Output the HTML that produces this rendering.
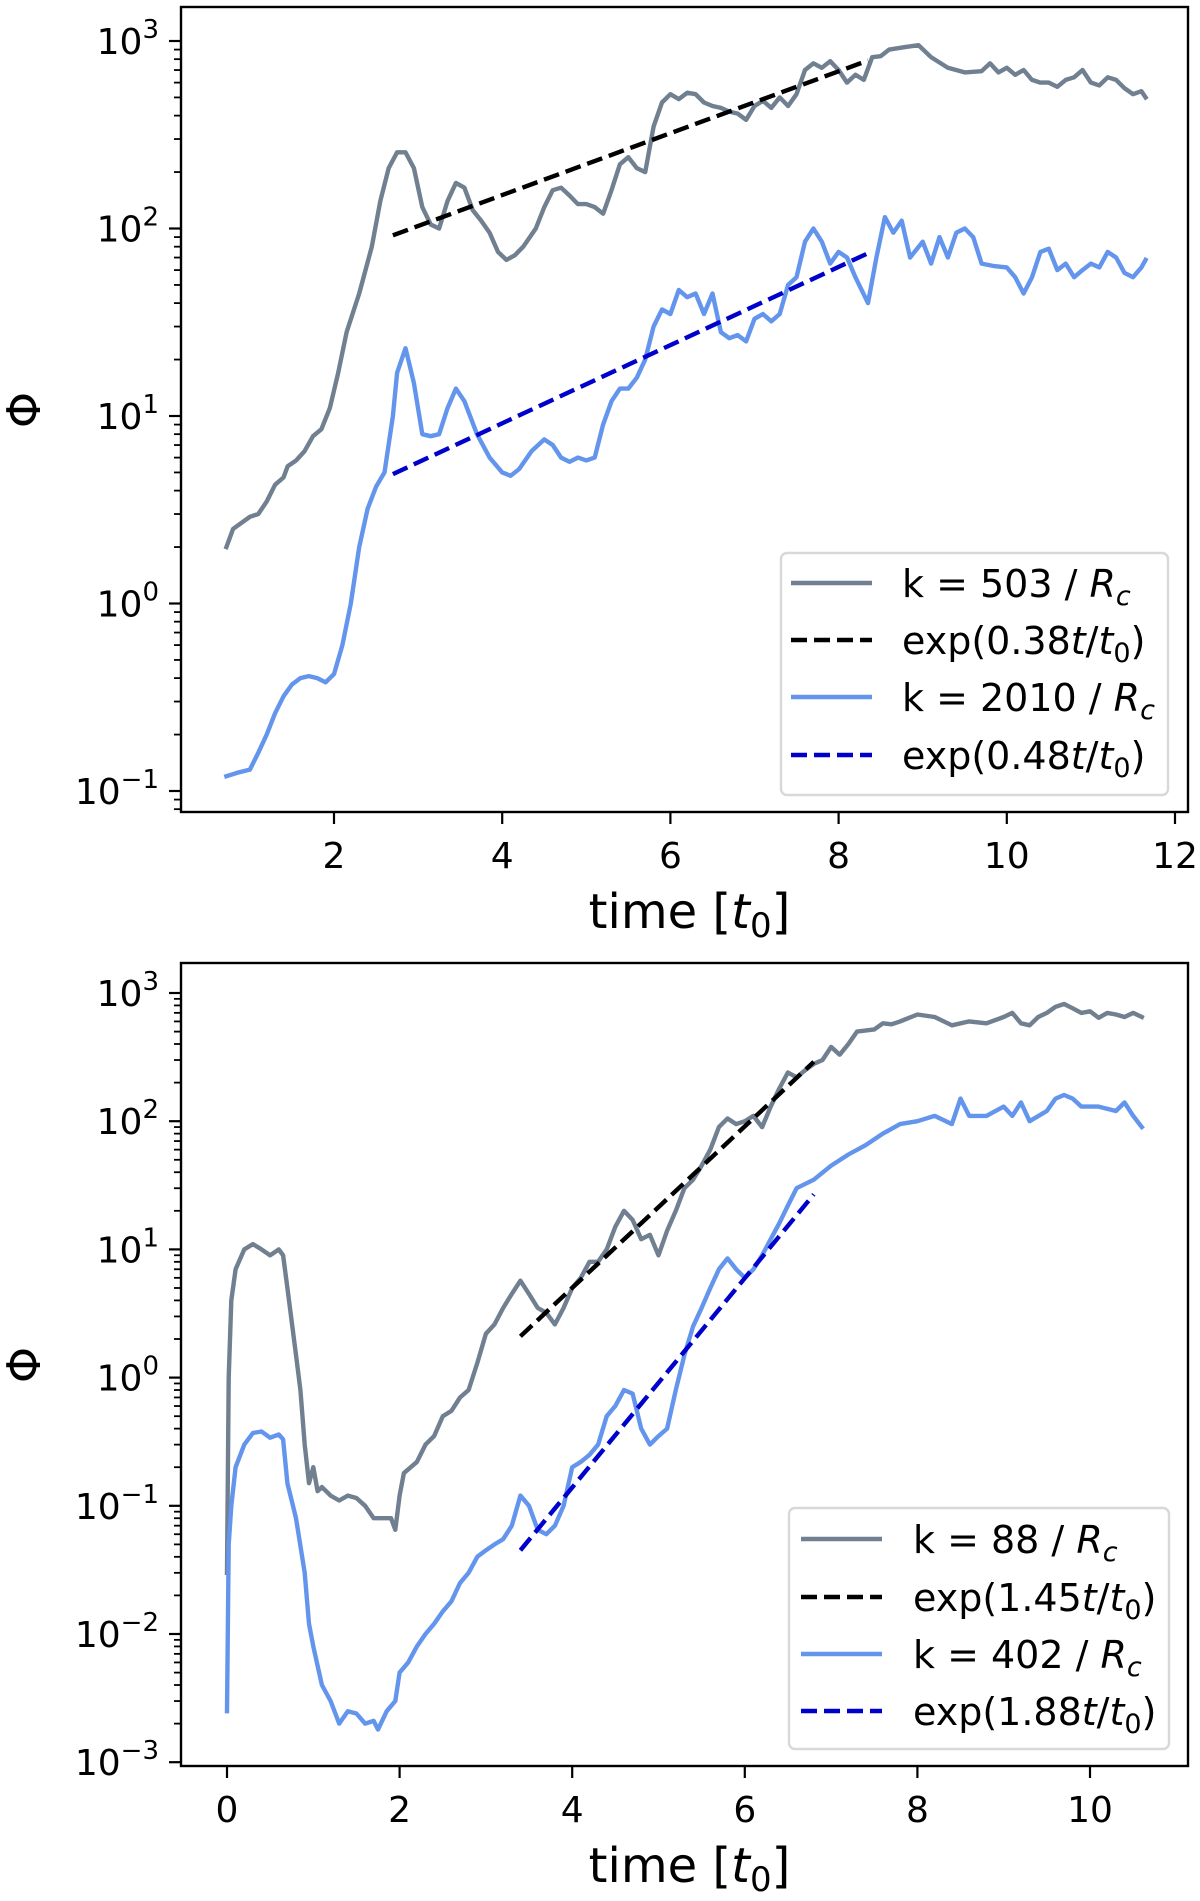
<!DOCTYPE html>
<html><head><meta charset="utf-8"><style>
body{margin:0;background:#fff;}
svg{display:block;font-family:"DejaVu Sans","Liberation Sans",sans-serif;}
</style></head><body>
<svg id="fig" width="1200" height="1901" viewBox="0 0 1200 1901"></svg>
<script>
// ---- Top panel data ----
const topGrayT=[0.72,0.8,1.0,1.1,1.2,1.3,1.4,1.45,1.55,1.65,1.75,1.85,1.95,2.05,2.15,2.3,2.45,2.55,2.65,2.75,2.85,2.95,3.05,3.15,3.25,3.35,3.45,3.55,3.65,3.75,3.85,3.95,4.05,4.15,4.25,4.4,4.5,4.6,4.7,4.8,4.9,5.0,5.1,5.2,5.3,5.4,5.5,5.6,5.7,5.8,5.9,6.0,6.1,6.2,6.3,6.4,6.5,6.6,6.7,6.8,6.9,7.0,7.1,7.2,7.3,7.4,7.5,7.6,7.7,7.8,7.9,8.0,8.1,8.2,8.3,8.4,8.5,8.6,8.8,8.95,9.1,9.3,9.5,9.7,9.8,9.9,10.0,10.1,10.2,10.3,10.4,10.5,10.6,10.7,10.8,10.9,11.0,11.1,11.2,11.3,11.4,11.5,11.6,11.65];
const topGrayV=[2.0,2.5,2.9,3.0,3.5,4.3,4.7,5.4,5.8,6.5,7.8,8.5,11,17,28,45,80,140,210,255,255,210,130,105,100,140,175,165,125,110,95,75,68,72,80,100,130,160,165,150,135,135,130,120,160,220,240,210,200,350,470,520,490,530,520,470,450,440,420,410,380,450,480,440,500,450,520,700,760,720,780,700,600,660,620,820,830,900,930,950,820,720,680,690,760,680,720,660,700,620,600,600,570,620,640,700,600,580,640,620,560,520,540,500];
const topBlueT=[0.72,0.85,1.0,1.1,1.2,1.3,1.4,1.5,1.6,1.7,1.8,1.9,2.0,2.1,2.2,2.3,2.4,2.5,2.6,2.7,2.75,2.85,2.95,3.05,3.15,3.25,3.35,3.45,3.55,3.7,3.85,4.0,4.1,4.2,4.35,4.5,4.6,4.7,4.8,4.9,5.0,5.1,5.2,5.3,5.4,5.5,5.6,5.7,5.8,5.9,6.0,6.1,6.2,6.3,6.4,6.5,6.6,6.7,6.8,6.9,7.0,7.1,7.2,7.3,7.4,7.5,7.6,7.7,7.8,7.9,8.0,8.1,8.2,8.35,8.45,8.55,8.65,8.75,8.85,9.0,9.1,9.2,9.3,9.4,9.5,9.6,9.7,9.85,10.0,10.1,10.2,10.3,10.4,10.5,10.6,10.7,10.8,10.9,11.0,11.1,11.2,11.3,11.4,11.5,11.6,11.65];
const topBlueV=[0.12,0.125,0.13,0.16,0.2,0.26,0.32,0.37,0.40,0.41,0.40,0.38,0.42,0.6,1.0,2.0,3.2,4.2,5,10,17,23,15,8,7.8,8,11,14,12,8,6,5,4.8,5.2,6.5,7.5,7,6,5.7,6,5.8,6,9,12,14,14,16,20,30,37,35,47,43,45,35,45,28,26,27,25,33,35,32,35,50,55,85,100,85,65,75,70,55,40,70,115,95,110,70,85,65,90,70,95,100,90,65,63,62,55,45,55,75,78,60,65,55,60,65,62,75,70,58,55,62,68];
const topFitRate=[0.38,0.48];
const topFitStart=[2.7,2.7];
const topFitEnd=[8.35,8.4];
const topFitAmp=[92,4.9];
// ---- Bottom panel data ----
const botGrayT=[0,0.02,0.05,0.1,0.2,0.3,0.4,0.5,0.6,0.65,0.7,0.8,0.85,0.9,0.95,1.0,1.05,1.1,1.2,1.3,1.4,1.5,1.6,1.7,1.8,1.9,1.95,2.0,2.05,2.2,2.3,2.4,2.5,2.6,2.7,2.8,2.9,3.0,3.1,3.2,3.3,3.4,3.5,3.6,3.7,3.8,3.9,4.0,4.1,4.2,4.3,4.4,4.5,4.6,4.7,4.8,4.9,5.0,5.1,5.2,5.3,5.4,5.5,5.6,5.7,5.8,5.9,6.0,6.1,6.2,6.3,6.4,6.5,6.6,6.7,6.8,6.9,7.0,7.1,7.2,7.3,7.5,7.6,7.7,7.8,8.0,8.2,8.4,8.6,8.8,9.0,9.1,9.2,9.3,9.4,9.5,9.6,9.7,9.8,9.9,10.0,10.1,10.2,10.3,10.4,10.5,10.6];
const botGrayV=[0.03,1.0,4,7,10,11,10,9,10,9,5,1.5,0.8,0.3,0.15,0.2,0.13,0.14,0.12,0.11,0.12,0.115,0.10,0.08,0.08,0.08,0.065,0.12,0.18,0.22,0.3,0.35,0.5,0.55,0.7,0.8,1.3,2.2,2.6,3.5,4.5,5.7,4.5,3.5,3.2,2.6,3.5,5,6,8,8,10,15,20,17,12,13,9,14,20,30,35,45,60,90,105,95,100,110,90,130,180,240,220,250,280,300,380,330,400,500,520,580,570,600,680,650,560,600,580,650,700,580,560,650,700,780,820,760,700,720,640,700,680,650,700,650];
const botBlueT=[0,0.02,0.05,0.1,0.2,0.3,0.4,0.5,0.6,0.65,0.7,0.8,0.9,0.95,1.0,1.1,1.2,1.3,1.4,1.5,1.6,1.7,1.75,1.85,1.95,2.0,2.1,2.2,2.3,2.4,2.5,2.6,2.7,2.8,2.9,3.0,3.1,3.2,3.3,3.4,3.5,3.6,3.7,3.8,3.9,4.0,4.1,4.2,4.3,4.4,4.5,4.6,4.7,4.8,4.9,5.0,5.1,5.2,5.3,5.4,5.5,5.6,5.7,5.8,5.9,6.0,6.1,6.2,6.3,6.4,6.5,6.6,6.8,7.0,7.2,7.4,7.6,7.8,8.0,8.2,8.4,8.5,8.6,8.8,9.0,9.1,9.2,9.3,9.5,9.6,9.7,9.8,9.9,10.1,10.3,10.4,10.5,10.6];
const botBlueV=[0.0025,0.05,0.1,0.2,0.3,0.37,0.38,0.34,0.36,0.33,0.15,0.08,0.03,0.012,0.008,0.004,0.003,0.002,0.0025,0.0024,0.002,0.0021,0.0018,0.0025,0.003,0.005,0.006,0.008,0.01,0.012,0.015,0.018,0.025,0.03,0.04,0.045,0.05,0.055,0.07,0.12,0.1,0.065,0.06,0.07,0.1,0.2,0.22,0.25,0.3,0.5,0.6,0.8,0.75,0.4,0.3,0.35,0.4,0.8,1.5,2.5,3.5,5,7,8.5,7,6,7,9,12,16,22,30,35,45,55,65,80,95,100,110,95,150,110,110,130,110,140,100,120,150,160,150,130,130,120,140,110,90];
const botFitRate=[1.45,1.88];
const botFitStart=[3.4,3.4];
const botFitEnd=[6.8,6.8];
const botFitAmp=[2.1,0.045];
const topXTicks=[2,4,6,8,10,12];
const botXTicks=[0,2,4,6,8,10];
const topYExp=[-1,0,1,2,3];
const botYExp=[-3,-2,-1,0,1,2,3];
const legTopLabels=[["k = 503 / ","R","c"],["exp(0.38","t","/"],["k = 2010 / ","R","c"],["exp(0.48","t","/"]];
const legBotLabels=[["k = 88 / ","R","c"],["exp(1.45","t","/"],["k = 402 / ","R","c"],["exp(1.88","t","/"]];

const NS="http://www.w3.org/2000/svg";
const svg=document.getElementById('fig');
function mk(tag,attrs,parent){const e=document.createElementNS(NS,tag);for(const k in attrs)e.setAttribute(k,attrs[k]);(parent||svg).appendChild(e);return e;}
const GRAY="#708090",BLUE="#6495ED",BLACK="#000",DBLUE="#0000CD";
const LW=4.4, DASH='16,7';

function panel(cfg){
  const g=mk('g',{});
  
  
  const X=t=>cfg.x0+t*cfg.xs;
  const Y=v=>cfg.yRef-(Math.log10(v)-cfg.refExp)*cfg.dec;
  const clip=mk('clipPath',{id:cfg.name+'-clip'},g);
  mk('rect',{x:cfg.L,y:cfg.T,width:cfg.R-cfg.L,height:cfg.B-cfg.T},clip);
  const plot=mk('g',{'clip-path':'url(#'+cfg.name+'-clip)'},g);
  function series(T,V,color,name,dash){
    const d=T.map((t,i)=>(i?'L':'M')+X(t).toFixed(1)+','+Y(V[i]).toFixed(1)).join('');
    const p=mk('path',{d:d,fill:'none',stroke:color,'stroke-width':LW,'stroke-linejoin':'round','stroke-linecap':dash?'butt':'square'},plot);
    if(dash)p.setAttribute('stroke-dasharray',DASH);
    
    
  }
  series(cfg.gT,cfg.gV,GRAY,'gray-series');
  series(cfg.bT,cfg.bV,BLUE,'blue-series');
  const fitColors=[BLACK,DBLUE];
  for(let k=0;k<2;k++){
    const t0=cfg.fS[k],t1=cfg.fE[k];
    const T=[t0,t1],V=[cfg.fA[k],cfg.fA[k]*Math.exp(cfg.fR[k]*(t1-t0))];
    series(T,V,fitColors[k],k?'blue-fit-line':'black-fit-line',true);
  }
  const fr=mk('rect',{x:cfg.L,y:cfg.T,width:cfg.R-cfg.L,height:cfg.B-cfg.T,fill:'none',stroke:'#000','stroke-width':2.4},g);
  
  
  cfg.xt.forEach(t=>{
    mk('line',{x1:X(t),x2:X(t),y1:cfg.B,y2:cfg.B+12,stroke:'#000','stroke-width':2.2},g);
    const tx=mk('text',{x:X(t),y:cfg.B+56,'font-size':36,'text-anchor':'middle',fill:'#000'},g);
    tx.textContent=String(t);
    
    
  });
  const lo=Math.floor(cfg.refExp-(cfg.B-cfg.yRef)/cfg.dec)-1, hi=cfg.refExp+Math.ceil((cfg.yRef-cfg.T)/cfg.dec)+1;
  for(let e=lo;e<=hi;e++){for(let m=2;m<=9;m++){const y=Y(m*Math.pow(10,e));if(y>cfg.T&&y<cfg.B)mk('line',{x1:cfg.L-7,x2:cfg.L,y1:y,y2:y,stroke:'#000','stroke-width':1.8},g);}}
  cfg.ye.forEach(e=>{
    const y=Y(Math.pow(10,e));
    mk('line',{x1:cfg.L-12,x2:cfg.L,y1:y,y2:y,stroke:'#000','stroke-width':2.2},g);
    const tx=mk('text',{x:cfg.L-22,y:y+13,'font-size':36,'text-anchor':'end',fill:'#000'},g);
    
    
    const a=mk('tspan',{},tx);a.textContent='10';
    const b=mk('tspan',{'font-size':26,dy:-16},tx);b.textContent=(e<0?'−':'')+Math.abs(e);
  });
  const xl=mk('text',{x:(cfg.L+cfg.R)/2+5,y:cfg.B+116,'font-size':48,'text-anchor':'middle',fill:'#000'},g);
  
  
  xl.innerHTML='time [<tspan font-style="italic">t</tspan><tspan font-size="34" dy="9">0</tspan><tspan dy="-9">]</tspan>';
  const yl=mk('text',{x:0,y:0,'font-size':46,'text-anchor':'middle',fill:'#000',transform:'translate(40,'+cfg.ylY+') rotate(-90)'},g);
  yl.textContent='Φ';
  
  
  const lg=mk('g',{},g);
  
  
  mk('rect',{x:cfg.lg.x,y:cfg.lg.y,width:cfg.lg.w,height:cfg.lg.h,rx:6,fill:'#fff','fill-opacity':0.85,stroke:'#d8d8d8','stroke-width':2.4},lg);
  const cols=[GRAY,BLACK,BLUE,DBLUE];
  cfg.labels.forEach((lab,i)=>{
    const y=cfg.lg.rows[i];
    const ln=mk('line',{x1:cfg.lg.hx,x2:cfg.lg.hx+81,y1:y,y2:y,stroke:cols[i],'stroke-width':LW},lg);
    if(i%2)ln.setAttribute('stroke-dasharray',DASH);
    const tx=mk('text',{x:cfg.lg.tx,y:y+14,'font-size':38,fill:'#000'},lg);
    
    
    const s1=mk('tspan',{},tx);s1.textContent=lab[0];
    const s2=mk('tspan',{'font-style':'italic'},tx);s2.textContent=lab[1];
    if(i%2){
      const s3=mk('tspan',{},tx);s3.textContent=lab[2];
      const s4=mk('tspan',{'font-style':'italic'},tx);s4.textContent='t';
      const s5=mk('tspan',{'font-size':27,dy:8},tx);s5.textContent='0';
      const s6=mk('tspan',{dy:-8},tx);s6.textContent=')';
    } else {const s3=mk('tspan',{'font-style':'italic','font-size':27,dy:8},tx);s3.textContent=lab[2];}
  });
}
panel({name:'top-panel',L:181,R:1188,T:7,B:812,x0:165.8,xs:84.1,yRef:41,refExp:3,dec:187.5,
  gT:topGrayT,gV:topGrayV,bT:topBlueT,bV:topBlueV,fR:topFitRate,fS:topFitStart,fE:topFitEnd,fA:topFitAmp,
  xt:topXTicks,ye:topYExp,ylY:410,labels:legTopLabels,
  lg:{x:781,y:553,w:387,h:242,rows:[583,640,697,755],hx:791,tx:902}});
panel({name:'bottom-panel',L:181,R:1188,T:963,B:1766,x0:227,xs:86.3,yRef:993,refExp:3,dec:128.2,
  gT:botGrayT,gV:botGrayV,bT:botBlueT,bV:botBlueV,fR:botFitRate,fS:botFitStart,fE:botFitEnd,fA:botFitAmp,
  xt:botXTicks,ye:botYExp,ylY:1365,labels:legBotLabels,
  lg:{x:789,y:1508,w:380,h:241,rows:[1539,1597,1654,1711],hx:801,tx:913}});
</script>
</body></html>
